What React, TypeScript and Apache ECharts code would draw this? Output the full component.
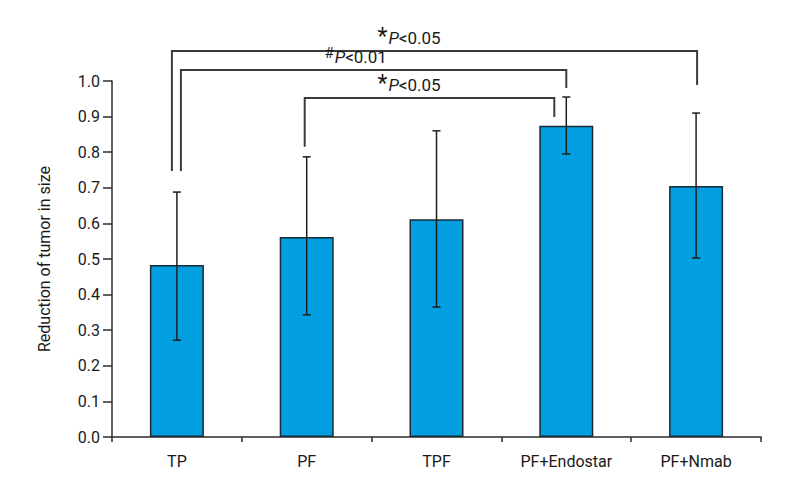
import React, { useEffect, useRef } from "react";
import * as echarts from "echarts";

const categories = ["TP", "PF", "TPF", "PF+Endostar", "PF+Nmab"];
const means = [0.483, 0.562, 0.612, 0.874, 0.705];
const errLow = [0.272, 0.343, 0.365, 0.795, 0.503];
const errHigh = [0.688, 0.787, 0.86, 0.955, 0.91];

// significance brackets: from category, to category, top level, left leg end, right leg end
const bracketFrom = [0, 0, 1];
const bracketTo = [4, 3, 3];
const bracketLevel = [1.084, 1.031, 0.952];
const bracketLeftEnd = [0.747, 0.747, 0.815];
const bracketRightEnd = [0.989, 0.98, 0.899];
const bracketMark = ["*", "#", "*"];
const bracketP = ["<0.05", "<0.01", "<0.05"];

// pixel layout tweaks for brackets (styling only)
const legOffsetLeft = [-5, 4, -2];
const legOffsetRight = [1, 0, -12];
const textOffset = [-59, -112, -59];

const FONT = "Roboto, 'Liberation Sans', sans-serif";
const INK = "#2b2b2b";

export default function App() {
  const ref = useRef<HTMLDivElement>(null);
  useEffect(() => {
    if (!ref.current) return;
    const chart = echarts.init(ref.current, null, { renderer: "svg" });
    const option: any = {
      animation: false,
      backgroundColor: "#ffffff",
      grid: { left: 112, right: 39, top: 81, bottom: 63, containLabel: false },
      xAxis: {
        type: "category",
        data: categories,
        axisLine: { lineStyle: { color: INK, width: 1.5 } },
        axisTick: { show: true, length: 5, lineStyle: { color: INK, width: 1.5 } },
        axisLabel: { interval: 0, fontFamily: FONT, fontSize: 16, color: "#1a1a1a", margin: 16 },
      },
      yAxis: {
        type: "value",
        min: 0,
        max: 1,
        interval: 0.1,
        name: "Reduction of tumor in size",
        nameLocation: "middle",
        nameGap: 60,
        nameTextStyle: { fontFamily: FONT, fontSize: 16, color: "#1a1a1a" },
        axisLine: { show: true, lineStyle: { color: INK, width: 1.5 } },
        axisTick: { show: true, length: 9, lineStyle: { color: INK, width: 1.5 } },
        splitLine: { show: false },
        axisLabel: {
          fontFamily: FONT,
          fontSize: 16,
          color: "#1a1a1a",
          margin: 12,
          formatter: (v: number) => v.toFixed(1),
        },
      },
      series: [
        {
          type: "bar",
          data: means,
          barWidth: 54,
          itemStyle: { color: "#019fe0", borderColor: "#1b2b35", borderWidth: 1.5 },
          z: 2,
        },
        {
          type: "custom",
          z: 5,
          clip: false,
          data: categories.map((_, i) => [i, errLow[i], errHigh[i]]),
          encode: { x: 0, y: [1, 2] },
          renderItem: (params: any, api: any) => {
            const x = api.value(0);
            const lo = api.coord([x, api.value(1)]);
            const hi = api.coord([x, api.value(2)]);
            const cap = 4;
            const style = { stroke: "#1e1e1e", lineWidth: 1.5 };
            return {
              type: "group",
              children: [
                { type: "line", shape: { x1: lo[0], y1: lo[1], x2: hi[0], y2: hi[1] }, style },
                { type: "line", shape: { x1: lo[0] - cap, y1: lo[1], x2: lo[0] + cap, y2: lo[1] }, style },
                { type: "line", shape: { x1: hi[0] - cap, y1: hi[1], x2: hi[0] + cap, y2: hi[1] }, style },
              ],
            };
          },
        },
        {
          type: "custom",
          z: 6,
          clip: false,
          data: bracketFrom.map((f, i) => [f, bracketTo[i], bracketLevel[i], bracketLeftEnd[i], bracketRightEnd[i]]),
          encode: { x: [0, 1], y: [2, 3, 4] },
          renderItem: (params: any, api: any) => {
            const i = params.dataIndex;
            const from = api.value(0);
            const to = api.value(1);
            const top = api.coord([from, api.value(2)]);
            const lEnd = api.coord([from, api.value(3)]);
            const rEnd = api.coord([to, api.value(4)]);
            const topR = api.coord([to, api.value(2)]);
            const mid = api.coord([2, api.value(2)]);
            const xl = top[0] + legOffsetLeft[i];
            const xr = topR[0] + legOffsetRight[i];
            const yTop = top[1];
            const markStyle =
              bracketMark[i] === "#"
                ? { fontSize: 15, verticalAlign: "top", fontFamily: FONT, fill: "#1a1a1a", padding: [0, 1, 8, 0] }
                : { fontSize: 23, fontFamily: FONT, fill: "#1a1a1a", padding: [0, 1, 2, 0] };
            return {
              type: "group",
              children: [
                {
                  type: "polyline",
                  shape: { points: [[xl, lEnd[1]], [xl, yTop], [xr, yTop], [xr, rEnd[1]]] },
                  style: { stroke: "#3a3a3a", lineWidth: 2, fill: null },
                },
                {
                  type: "text",
                  x: mid[0] + textOffset[i],
                  y: yTop - 1,
                  style: {
                    text: `{m|${bracketMark[i]}}{p|P}{n|${bracketP[i]}}`,
                    textAlign: "left",
                    textVerticalAlign: "bottom",
                    rich: {
                      m: markStyle,
                      p: { fontSize: 17, fontStyle: "italic", fontFamily: FONT, fill: "#1a1a1a" },
                      n: { fontSize: 17, fontFamily: FONT, fill: "#1a1a1a" },
                    },
                  },
                },
              ],
            };
          },
        },
      ],
    };
    chart.setOption(option);
    return () => chart.dispose();
  }, []);
  return (
    <div
      ref={ref}
      style={{ position: "fixed", left: 0, top: 0, width: 800, height: 500, background: "#fff" }}
    />
  );
}
